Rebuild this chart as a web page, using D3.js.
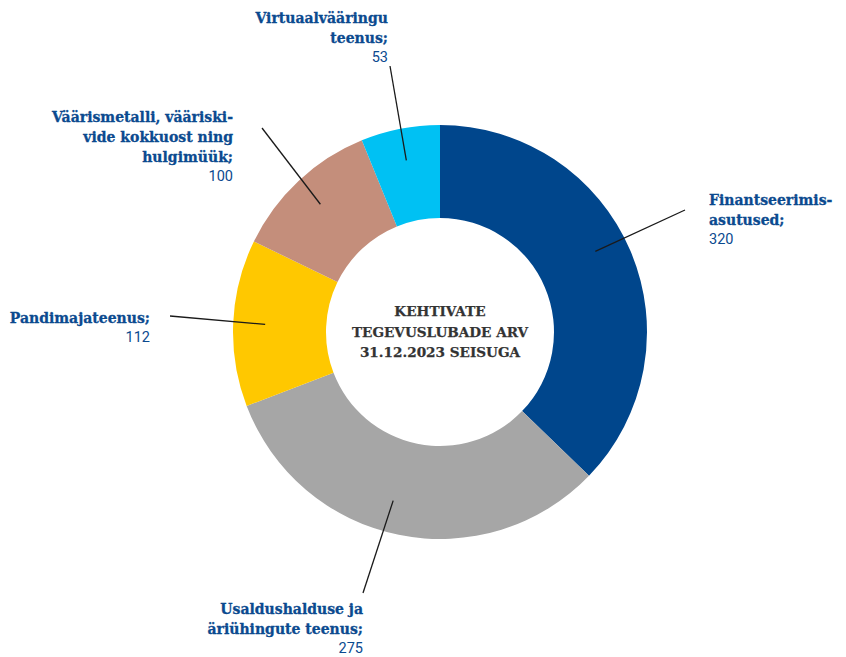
<!DOCTYPE html>
<html>
<head>
<meta charset="utf-8">
<script src="https://cdn.jsdelivr.net/npm/d3@7"></script>
<style>
  html, body { margin: 0; padding: 0; background: #ffffff; }
  svg { display: block; }
  .name { font-family: "DejaVu Serif", serif; font-weight: bold; font-size: 14px; fill: #0b4a8f; stroke: #0b4a8f; stroke-width: 0.3px; }
  .num { font-family: Roboto, "Liberation Sans", sans-serif; font-size: 14.5px; fill: #0b4a8f; }
  .center { font-family: "DejaVu Serif", serif; font-weight: bold; font-size: 13.6px; fill: #333333; stroke: #333333; stroke-width: 0.25px; }
</style>
</head>
<body>
<svg id="chart" width="846" height="657"></svg>
<script>
// Licences in force by activity type, 31.12.2023
const categories = [
  "Finantseerimisasutused",
  "Usaldushalduse ja äriühingute teenus",
  "Pandimajateenus",
  "Väärismetalli, vääriskivide kokkuost ning hulgimüük",
  "Virtuaalvääringu teenus"
];
const values = [320, 275, 112, 100, 53];
const colors = ["#00468c", "#a6a6a6", "#ffc800", "#c48e7b", "#00c1f3"];
// Label text, one entry per line (last line is the value)
const labelLines = [
  ["Finantseerimis-", "asutused;"],
  ["Usaldushalduse ja", "äriühingute teenus;"],
  ["Pandimajateenus;"],
  ["Väärismetalli, vääriski-", "vide kokkuost ning", "hulgimüük;"],
  ["Virtuaalvääringu", "teenus;"]
];
const centerLines = ["KEHTIVATE", "TEGEVUSLUBADE ARV", "31.12.2023 SEISUGA"];

const svg = d3.select("#chart");
const cx = 440, cy = 332;
const outerR = 207, innerR = 114;

const pie = d3.pie().sort(null).value(d => d)(values);
const arc = d3.arc().innerRadius(innerR).outerRadius(outerR);

const g = svg.append("g").attr("transform", `translate(${cx},${cy})`);

g.selectAll("path.slice")
  .data(pie)
  .join("path")
  .attr("class", "slice")
  .attr("d", arc)
  .attr("fill", (d, i) => colors[i]);

// Label placement: anchor point, alignment, angle nudge for the leader line
const labelLayout = [
  { x: 709, y: 205, anchor: "start", lx: 685, ly: 210, da: -0.077 },
  { x: 363, y: 614, anchor: "end",   lx: 363, ly: 593, da: 0.07 },
  { x: 150, y: 323, anchor: "end",   lx: 170, ly: 316, da: 0 },
  { x: 233, y: 122, anchor: "end",   lx: 262, ly: 128, da: 0 },
  { x: 388, y: 23,  anchor: "end",   lx: 390, ly: 66,  da: 0 }
];
const leaderR = 175;
const lineStep = 20;

pie.forEach((d, i) => {
  const L = labelLayout[i];
  const a = (d.startAngle + d.endAngle) / 2 + L.da;
  const px = cx + leaderR * Math.sin(a);
  const py = cy - leaderR * Math.cos(a);
  svg.append("line")
    .attr("x1", L.lx).attr("y1", L.ly)
    .attr("x2", px).attr("y2", py)
    .attr("stroke", "#1a1a1a").attr("stroke-width", 1.3);

  const t = svg.append("text").attr("text-anchor", L.anchor);
  labelLines[i].forEach((line, k) => {
    t.append("tspan").attr("class", "name")
      .attr("x", L.x).attr("y", L.y + k * lineStep).text(line);
  });
  t.append("tspan").attr("class", "num")
    .attr("x", L.x).attr("y", L.y + labelLines[i].length * lineStep - 1.5)
    .text(values[i]);
});

const ct = svg.append("text").attr("text-anchor", "middle");
centerLines.forEach((line, k) => {
  ct.append("tspan").attr("class", "center")
    .attr("x", cx).attr("y", 316 + k * 20.5).text(line);
});
</script>
</body>
</html>
